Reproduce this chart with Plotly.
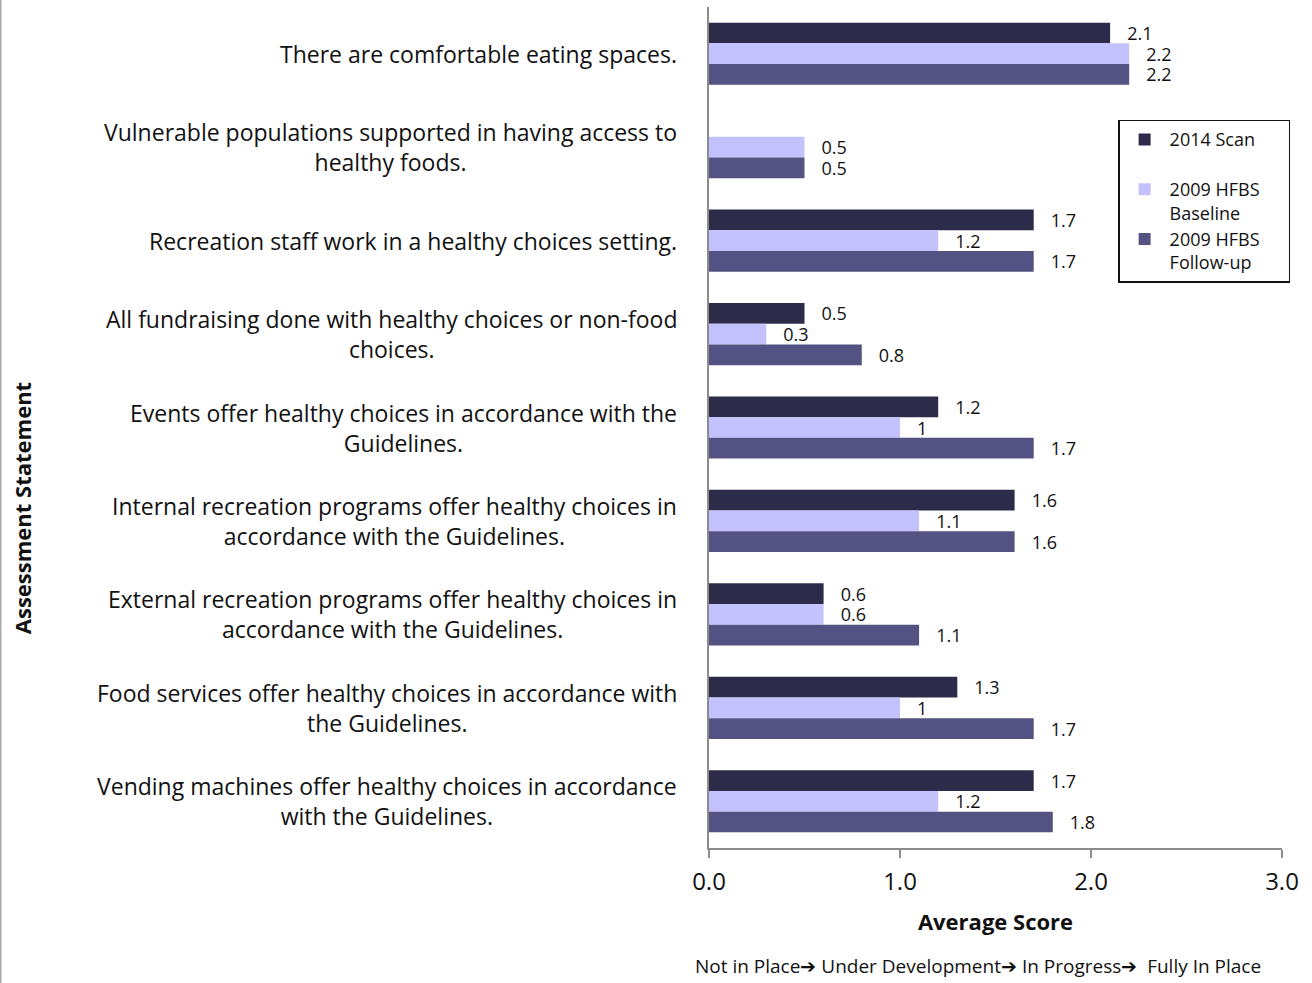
import plotly.graph_objects as go

# Assessment statements, listed top to bottom
statements = [
    "There are comfortable eating spaces.",
    "Vulnerable populations supported in having access to<br>healthy foods.",
    "Recreation staff work in a healthy choices setting.",
    "All fundraising done with healthy choices or non-food<br>choices.",
    "Events offer healthy choices in accordance with the<br>Guidelines.",
    "Internal recreation programs offer healthy choices in<br>accordance with the Guidelines.",
    "External recreation programs offer healthy choices in<br>accordance with the Guidelines.",
    "Food services offer healthy choices in accordance with<br>the Guidelines.",
    "Vending machines offer healthy choices in accordance<br>with the Guidelines.",
]
categories = [f"S{i + 1}" for i in range(len(statements))]

scan_2014 = [2.1, None, 1.7, 0.5, 1.2, 1.6, 0.6, 1.3, 1.7]
hfbs_baseline = [2.2, 0.5, 1.2, 0.3, 1.0, 1.1, 0.6, 1.0, 1.2]
hfbs_followup = [2.2, 0.5, 1.7, 0.8, 1.7, 1.6, 1.1, 1.7, 1.8]

NB = "\u00a0"
series = [
    ("2014 Scan<br>" + NB, scan_2014, "#2c2b4a"),
    ("2009 HFBS" + NB * 5 + "<br>Baseline", hfbs_baseline, "#c3c2fe"),
    ("2009 HFBS" + NB * 5 + "<br>Follow-up", hfbs_followup, "#535282"),
]

x_ticks = [0, 1, 2, 3]
x_tick_text = ["0.0", "1.0", "2.0", "3.0"]

FONT = "Open Sans"
PAD = NB * 3

fig = go.Figure()
for i, (name, vals, color) in enumerate(series):
    fig.add_trace(go.Bar(
        y=categories,
        x=vals,
        orientation="h",
        name=name,
        legendgroup=f"g{i}",
        marker=dict(color=color, line=dict(width=0)),
        text=[PAD + f"{v:g}" if v is not None else "" for v in vals],
        textposition="outside",
        textfont=dict(family=FONT, size=18, color="#111"),
        constraintext="none",
        cliponaxis=False,
    ))

# Statement labels, centred within a right-aligned block beside the axis
for cat, label in zip(categories, statements):
    fig.add_annotation(
        xref="paper", yref="y", x=-0.052, y=cat,
        text=label, showarrow=False,
        xanchor="right", yanchor="middle", align="center",
        font=dict(family=FONT, size=23, color="#111"),
    )

fig.add_annotation(
    xref="paper", yref="paper", x=-1.199, y=0.404,
    text="<b>Assessment Statement</b>", textangle=-90, showarrow=False,
    xanchor="center", yanchor="middle",
    font=dict(family=FONT, size=22, color="#111"),
)
fig.add_annotation(
    xref="paper", yref="paper", x=0.4686, y=-0.1403,
    text="Not in Place\u2794 Under Development\u2794 In Progress\u2794  Fully In Place",
    showarrow=False, xanchor="center", yanchor="middle",
    font=dict(family=FONT, size=19, color="#111"),
)

# Thin border along the left edge of the chart area
fig.add_shape(type="line", xref="paper", yref="paper",
              x0=-1.236, x1=-1.236, y0=-0.161, y1=1.01,
              line=dict(color="#aaaaaa", width=1.5))

fig.update_layout(
    width=1312, height=983,
    margin=dict(l=709, r=30, t=7, b=135),
    paper_bgcolor="white", plot_bgcolor="white",
    barmode="group", bargap=0.335, bargroupgap=0,
    font=dict(family=FONT, color="#111"),
    showlegend=True,
    legend=dict(
        x=0.714, y=0.866, xanchor="left", yanchor="top",
        bordercolor="#111", borderwidth=1.5,
        font=dict(family=FONT, size=18, color="#111"),
        valign="top", tracegroupgap=0, traceorder="normal",
        itemwidth=40,
    ),
    xaxis=dict(
        range=[0, 3], tickvals=x_ticks, ticktext=x_tick_text,
        showgrid=False, zeroline=False,
        showline=True, linecolor="#8c8c8c", linewidth=1.5,
        ticks="outside", ticklen=8, tickcolor="#8c8c8c", tickwidth=1.5,
        ticklabelstandoff=3,
        tickfont=dict(family=FONT, size=24, color="#111"),
        title=dict(text="<b>Average Score</b>", standoff=19,
                   font=dict(family=FONT, size=22, color="#111")),
    ),
    yaxis=dict(
        autorange="reversed", showticklabels=False, ticks="",
        showgrid=False, zeroline=False,
        showline=True, linecolor="#8c8c8c", linewidth=1.5,
    ),
)

fig.write_html("out.html")
